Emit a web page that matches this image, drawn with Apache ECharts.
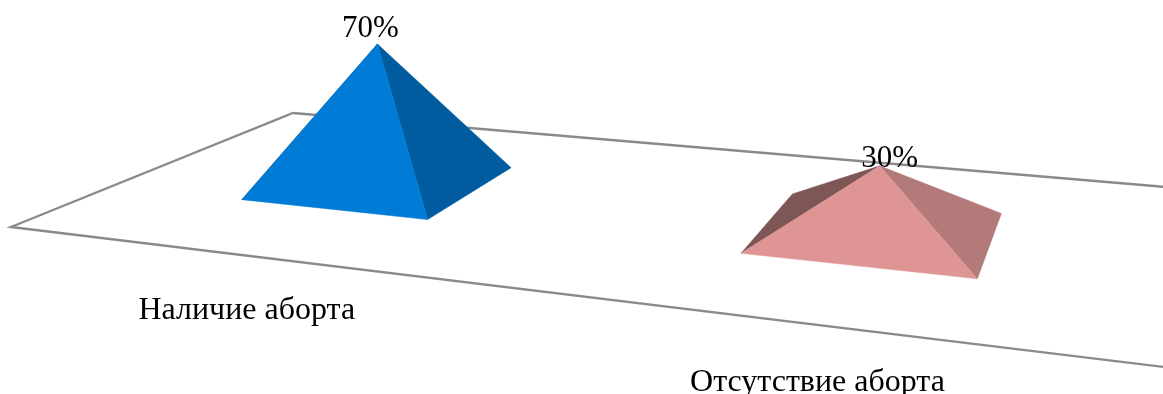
<!DOCTYPE html>
<html>
<head>
<meta charset="utf-8">
<style>html,body{margin:0;padding:0;background:#fff}#chart{width:1163px;height:394px}</style>
<script src="https://cdn.jsdelivr.net/npm/echarts@6/dist/echarts.min.js"></script>
</head>
<body>
<div id="chart"></div>
<script>
// Chart data
const categories = ['Наличие аборта', 'Отсутствие аборта'];
const shares = [70, 30];

// Face colours: [front, right, left]
const faceColors = [
  ['#007CD6', '#005C9E', '#00497D'],
  ['#DE9594', '#B27A78', '#7E5656']
];

// Perspective floor: front-left, front-right, back-right, back-left corners on screen
const floorQuad = [[11, 227], [1172, 368], [1171, 187.5], [293, 113]];
const gapRatio = 0.4;           // pyramid base width as a share of a category band
const baseDepth = [0.3, 0.7];   // extent of the base across the floor depth
const verticalVanish = { x: 573, dist: 6650 };
const valueNudges = [[-7, -15], [10, -7]];    // value label offset from the apex
const categoryNudges = [[0, 55], [-2, 57]];   // category label offset from the floor's front edge
const textFont = '"Liberation Serif", "Times New Roman", serif';

// Unit square -> floor quad projective map
const project = (() => {
  const [[x0, y0], [x1, y1], [x2, y2], [x3, y3]] = floorQuad;
  const dx1 = x1 - x2, dx2 = x3 - x2, sx = x0 - x1 + x2 - x3;
  const dy1 = y1 - y2, dy2 = y3 - y2, sy = y0 - y1 + y2 - y3;
  const det = dx1 * dy2 - dx2 * dy1;
  const g = (sx * dy2 - dx2 * sy) / det;
  const h = (dx1 * sy - sx * dy1) / det;
  const a = x1 - x0 + g * x1, b = x3 - x0 + h * x3;
  const d = y1 - y0 + g * y1, e = y3 - y0 + h * y3;
  return (u, v) => {
    const w = g * u + h * v + 1;
    return { x: (a * u + b * v + x0) / w, y: (d * u + e * v + y0) / w, scale: 1 / w };
  };
})();

function face(points, fill) {
  return {
    type: 'polygon',
    shape: { points: points.map(p => [p.x, p.y]) },
    style: { fill: fill, stroke: fill, lineWidth: 0.5 }
  };
}

function renderFloor() {
  return {
    type: 'polygon',
    shape: { points: floorQuad },
    style: { fill: '#fff', stroke: '#8A8A8A', lineWidth: 2.4, lineJoin: 'miter' }
  };
}

function renderPyramid(params, api) {
  const i = api.value(0);
  const value = api.value(1);
  const band = api.size([1, 0])[0];
  const floorWidth = band * categories.length;
  const u = api.coord([i, 0])[0] / floorWidth;
  const half = gapRatio * band / floorWidth / 2;
  const [v0, v1] = baseDepth;

  const fl = project(u - half, v0);
  const fr = project(u + half, v0);
  const br = project(u + half, v1);
  const bl = project(u - half, v1);
  const centre = project(u, (v0 + v1) / 2);

  const height = api.size([0, value])[1] * centre.scale;
  const apex = {
    x: centre.x + (centre.x - verticalVanish.x) * height / verticalVanish.dist,
    y: centre.y - height
  };
  const colors = faceColors[i];
  const front = project(u, 0);
  const nudge = valueNudges[i];
  const catNudge = categoryNudges[i];

  return {
    type: 'group',
    children: [
      face([fl, bl, apex], colors[2]),
      face([fr, br, apex], colors[1]),
      face([fl, fr, apex], colors[0]),
      {
        type: 'text',
        style: {
          x: apex.x + nudge[0], y: apex.y + nudge[1],
          text: value + '%', fill: '#000', font: '31px ' + textFont,
          align: 'center', verticalAlign: 'middle'
        }
      },
      {
        type: 'text',
        style: {
          x: front.x + catNudge[0], y: front.y + catNudge[1],
          text: categories[i], fill: '#000', font: '32px ' + textFont,
          align: 'center', verticalAlign: 'middle'
        }
      }
    ]
  };
}

const chart = echarts.init(document.getElementById('chart'), null, { renderer: 'canvas' });
chart.setOption({
  animation: false,
  backgroundColor: '#fff',
  grid: { left: 0, right: 0, top: 0, height: 219 },
  xAxis: { type: 'category', data: categories, show: false },
  yAxis: { type: 'value', min: 0, max: 100, show: false },
  series: [
    { type: 'custom', renderItem: renderFloor, data: [[0, 0]], silent: true, clip: false, z: 1 },
    {
      type: 'custom',
      renderItem: renderPyramid,
      data: shares.map((s, i) => [i, s]),
      clip: false,
      z: 2
    }
  ]
});
</script>
</body>
</html>
